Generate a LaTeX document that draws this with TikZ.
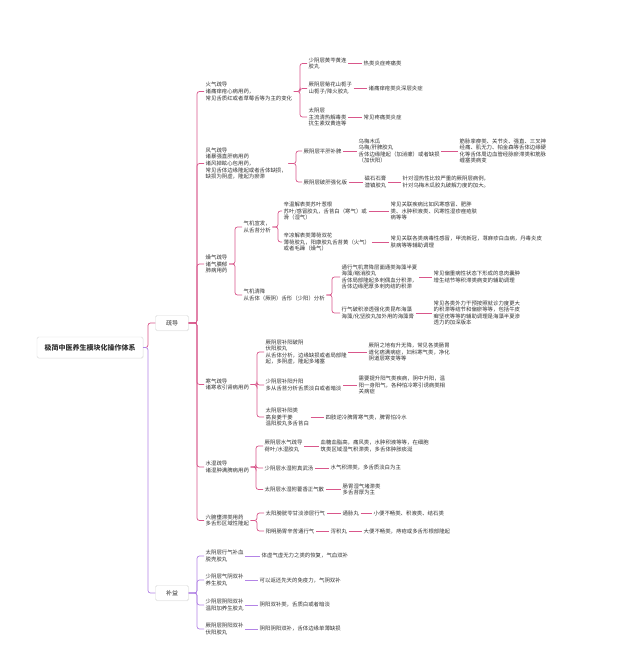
\documentclass[tikz,border=0pt]{standalone}
\usepackage{fontspec}
\setmainfont{Noto Sans CJK SC}
\usetikzlibrary{shadows}
\definecolor{pk}{HTML}{D9578B}
\definecolor{pu}{HTML}{B384E6}
\definecolor{tx}{HTML}{333333}
\tikzset{
 tnode/.style={font=\fontsize{5.4}{6.6}\selectfont, text=tx, align=left, anchor=west, inner xsep=1.5pt, inner ysep=1pt},
 mbox/.style={draw=black!15, fill=white, rounded corners=1.5pt, text=tx, drop shadow={opacity=0.12, shadow xshift=0.6pt, shadow yshift=-0.6pt}},
 cpk/.style={draw=pk, line width=0.7pt, rounded corners=2.5pt},
 cpu/.style={draw=pu, line width=0.7pt, rounded corners=2.5pt},
}
\newcommand\mmlink[4]{\draw[#1] (#2.east) -- (#2.east -| #3) |- (#4.west);}
\newcommand\mmleaf[3]{\draw[#1] (#2.east) -- (#3.west);}
\begin{document}
\begin{tikzpicture}[x=1pt,y=-1pt]
\fill[white] (0,0) rectangle (640,655);
\useasboundingbox (0,0) rectangle (640,655);
% vertical bracket positions
\coordinate (vR) at (148,0);
\coordinate (vS) at (197,0);
\coordinate (v1) at (300,0);
\coordinate (v2) at (296,0);
\coordinate (v3) at (235,0);
\coordinate (v3a) at (278,0);
\coordinate (v3b) at (332,0);
\coordinate (v4) at (257,0);
\coordinate (v5) at (256,0);
\coordinate (v6) at (257,0);
% main boxes
\node[mbox, font=\fontsize{7}{8}\selectfont\bfseries, minimum width=106pt, minimum height=21pt] (root) at (90,347.5) {极简中医养生模块化操作体系};
\node[mbox, font=\fontsize{6}{7}\selectfont, minimum width=33pt, minimum height=15pt] (sd) at (172,323) {疏导};
\node[mbox, font=\fontsize{6}{7}\selectfont, minimum width=33pt, minimum height=15pt] (by) at (172,593) {补益};
% 火气
\node[tnode] (h1) at (204,91.5) {火气疏导\\诸痛痒疮心病用药，\\常见舌质红或者草莓舌等为主的变化};
\node[tnode] (h1a) at (307,63.5) {少阴层黄芩黄连\\胶丸};
\node[tnode] (h1ar) at (362,63.5) {热类炎症疼痛类};
\node[tnode] (h1b) at (307,88.5) {厥阴层菊花山栀子\\山栀子/降火胶丸};
\node[tnode] (h1br) at (367,88.5) {诸痛痒疮类炎深层炎症};
\node[tnode] (h1c) at (307,117) {太阴层\\主流清热解毒类\\抗生素双黄连等};
\node[tnode] (h1cr) at (362,117) {常见疼痛类炎症};
% 风气
\node[tnode] (h2) at (204,163.5) {风气疏导\\诸暴强直肝病用药\\诸风掉眩心包用药，\\常见舌体边缘隆起或者舌体缺损，\\缺损为阴虚，隆起为瘀滞};
\node[tnode] (h2a) at (302,151) {厥阴层平肝补脾};
\node[tnode] (h2am) at (357,151) {乌梅木瓜\\乌梅/肝脾胶丸\\舌体边缘隆起（加消瘰）或者缺损\\（加伏阳）};
\node[tnode] (h2ar) at (458,151) {筋脉挛痹类、关节炎、强直、三叉神\\经痛、肌无力、帕金森等舌体边缘硬\\化等舌体周边血管经脉瘀滞类和筋脉\\缠塞类病变};
\node[tnode] (h2b) at (302,182) {厥阴层破肝强化版};
\node[tnode] (h2bm) at (363,182) {磁石石膏\\潜镇胶丸};
\node[tnode] (h2br) at (401,182) {针对湿热性比较严重的厥阴层病例，\\针对乌梅木瓜胶丸破解力度的加大。};
% 燥气
\node[tnode] (h3) at (204,264) {燥气疏导\\诸气膹郁\\肺病用药};
\node[tnode] (h3a) at (242,227) {气机宣发，\\从舌苔分析};
\node[tnode] (h3a1) at (282,211) {辛温解表类苏叶葱根\\苏叶/感冒胶丸，舌苔白（寒气）或\\滑（湿气）};
\node[tnode] (h3a1r) at (389,211) {常见关联疾病比如风寒感冒、肥胖\\类、水肿积液类、风寒性湿疹痤疮肤\\病等等};
\node[tnode] (h3a2) at (282,242) {辛凉解表类薄荷双花\\薄荷胶丸，阳康胶丸舌苔黄（火气）\\或者毛躁（燥气）};
\node[tnode] (h3a2r) at (389,242) {常见关联各类病毒性感冒，甲流新冠，荨麻疹白血病，丹毒炎皮\\肤病等等辅助调理};
\node[tnode] (h3b) at (242,295) {气机清降\\从舌体（厥阴）舌形（少阳）分析};
\node[tnode] (h3b1) at (340,277) {通行气机肃降层面通类海藻半夏\\海藻/缩消胶丸\\舌体局部隆起多刺偶血分积滞，\\舌体边缘肥厚多刺肉结的积滞};
\node[tnode] (h3b1r) at (432,277) {常见偏重病性状态下形成的息肉囊肿\\增生结节等积滞类病变的辅助调理};
\node[tnode] (h3b2) at (340,313) {行气破积渗透强化类昆布海藻\\海藻/化坚胶丸加外用的海藻膏};
\node[tnode] (h3b2r) at (432,313) {常见各类外力干预按照就诊力度更大\\的积滞等结节和偏瘀等等，包括牛皮\\癣坚疣等等的辅助调理是海藻半夏渗\\透力的加深版本};
% 寒气
\node[tnode] (h4) at (204,384.5) {寒气疏导\\诸寒收引肾病用药};
\node[tnode] (h4a) at (264,352) {厥阴层补阳破阴\\伏阳胶丸\\从舌体分析，边缘缺损或者局部隆\\起，多阴虚，隆起多堵塞};
\node[tnode] (h4ar) at (367,352) {厥阴之地有升无降，常见各类肠胃\\道化痞满病症，妇科寒气类，净化\\阴道层寒变等等};
\node[tnode] (h4b) at (264,385) {少阴层补阳升阳\\多从舌苔分析舌质淡白或者暗淡};
\node[tnode] (h4br) at (357,385) {需要提升阳气类疾病，阴中升阳，温\\阳一身阳气，各种怕冷寒引诱病类相\\关病症};
\node[tnode] (h4c) at (264,417) {太阴层补阳类\\高良姜干姜\\温阳胶丸多舌苔白};
\node[tnode] (h4cr) at (324,417) {四肢逆冷脾胃寒气类，脾胃怕冷水};
% 水湿
\node[tnode] (h5) at (204,467) {水湿疏导\\诸湿肿满脾病用药};
\node[tnode] (h5a) at (263,446) {厥阴层水气疏导\\荷叶/水湿胶丸};
\node[tnode] (h5ar) at (319,446) {血糖血脂高，痛风类，水肿积液等等，在细胞\\筑类区域湿气积滞类，多舌体肿胀痰涎};
\node[tnode] (h5b) at (263,468) {少阴层水湿附真武汤};
\node[tnode] (h5br) at (329,468) {水气积滞类，多舌质淡白为主};
\node[tnode] (h5c) at (263,489.5) {太阴层水湿附藿香正气散};
\node[tnode] (h5cr) at (341,489.5) {肠胃湿气堵滞类\\多舌苔厚为主};
% 六腑
\node[tnode] (h6) at (204,520.5) {六腑壅滞类用药\\多舌形区域性隆起};
\node[tnode] (h6a) at (264,513) {太阳膀胱苓甘淡渗层行气};
\node[tnode] (h6am) at (341,513) {通脉丸};
\node[tnode] (h6ar) at (372,513) {小便不畅类、积液类、结石类};
\node[tnode] (h6b) at (264,531) {阳明肠胃辛苦通行气};
\node[tnode] (h6bm) at (329,531) {泻积丸};
\node[tnode] (h6br) at (362,531) {大便不畅类，痔疮或多舌形根部隆起};
% 补益
\node[tnode] (b1) at (204,556) {太阴层行气补血\\脱壳胶丸};
\node[tnode] (b1r) at (260,556) {体虚气虚无力之类的恢复，气血双补};
\node[tnode] (b2) at (204,580) {少阴层气阴双补\\养生胶丸};
\node[tnode] (b2r) at (258,580) {可以返还先天的免疫力，气阴双补};
\node[tnode] (b3) at (204,605) {少阴层阴阳双补\\温阳加养生胶丸};
\node[tnode] (b3r) at (258,605) {阴阳双补类，舌质白或者暗淡};
\node[tnode] (b4) at (204,629) {厥阴层阴阳双补\\伏阳胶丸};
\node[tnode] (b4r) at (258,629) {阴阳阴阳双补，舌体边缘单薄缺损};
% links
\mmlink{cpk}{root}{vR}{sd}
\mmlink{cpu}{root}{vR}{by}
\foreach \c in {h1,h2,h3,h4,h5,h6} {\mmlink{cpk}{sd}{vS}{\c}}
\foreach \c in {b1,b2,b3,b4} {\mmlink{cpu}{by}{vS}{\c}}
\foreach \c in {h1a,h1b,h1c} {\mmlink{cpk}{h1}{v1}{\c}}
\foreach \c in {h2a,h2b} {\mmlink{cpk}{h2}{v2}{\c}}
\foreach \c in {h3a,h3b} {\mmlink{cpk}{h3}{v3}{\c}}
\foreach \c in {h3a1,h3a2} {\mmlink{cpk}{h3a}{v3a}{\c}}
\foreach \c in {h3b1,h3b2} {\mmlink{cpk}{h3b}{v3b}{\c}}
\foreach \c in {h4a,h4b,h4c} {\mmlink{cpk}{h4}{v4}{\c}}
\foreach \c in {h5a,h5b,h5c} {\mmlink{cpk}{h5}{v5}{\c}}
\foreach \c in {h6a,h6b} {\mmlink{cpk}{h6}{v6}{\c}}
\mmleaf{cpk}{h1a}{h1ar}
\mmleaf{cpk}{h1b}{h1br}
\mmleaf{cpk}{h1c}{h1cr}
\mmleaf{cpk}{h2a}{h2am}
\mmleaf{cpk}{h2am}{h2ar}
\mmleaf{cpk}{h2b}{h2bm}
\mmleaf{cpk}{h2bm}{h2br}
\mmleaf{cpk}{h3a1}{h3a1r}
\mmleaf{cpk}{h3a2}{h3a2r}
\mmleaf{cpk}{h3b1}{h3b1r}
\mmleaf{cpk}{h3b2}{h3b2r}
\mmleaf{cpk}{h4a}{h4ar}
\mmleaf{cpk}{h4b}{h4br}
\mmleaf{cpk}{h4c}{h4cr}
\mmleaf{cpk}{h5a}{h5ar}
\mmleaf{cpk}{h5b}{h5br}
\mmleaf{cpk}{h5c}{h5cr}
\mmleaf{cpk}{h6a}{h6am}
\mmleaf{cpk}{h6am}{h6ar}
\mmleaf{cpk}{h6b}{h6bm}
\mmleaf{cpk}{h6bm}{h6br}
\mmleaf{cpu}{b1}{b1r}
\mmleaf{cpu}{b2}{b2r}
\mmleaf{cpu}{b3}{b3r}
\mmleaf{cpu}{b4}{b4r}
\end{tikzpicture}
\end{document}
